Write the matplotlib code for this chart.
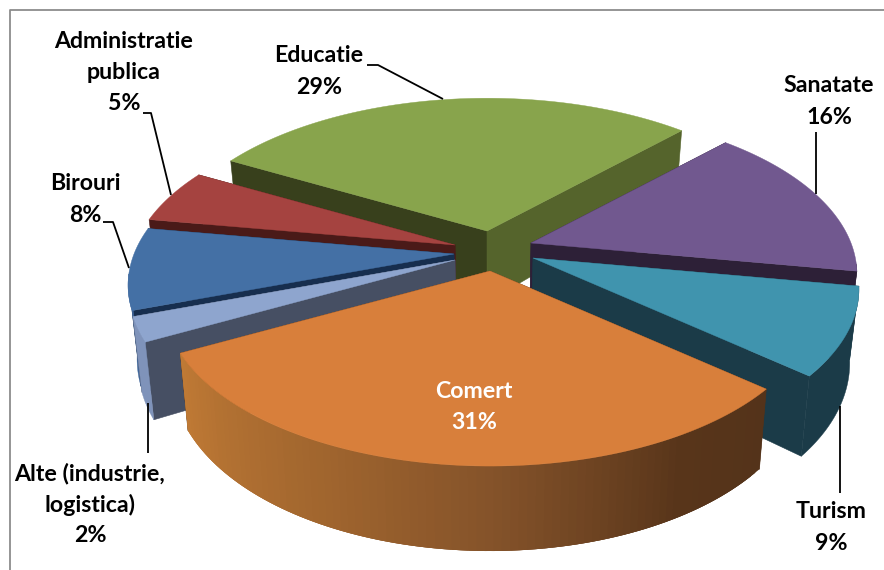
import numpy as np
import matplotlib
matplotlib.use("Agg")
import matplotlib.pyplot as plt
from matplotlib.patches import Polygon
from matplotlib.colors import to_rgb

# ---- data (clockwise from the start angle) ----
categories = ["Educatie", "Sanatate", "Turism", "Comert",
              "Alte (industrie,\nlogistica)", "Birouri", "Administratie\npublica"]
values = [29.1, 15.6, 8.6, 30.8, 2.4, 8.1, 5.4]

# ---- styles ----
top_colors = ["#88A44C", "#71588F", "#4094AE", "#D87F3B", "#8EA5CE", "#4470A5", "#A54340"]
start_wall = ["#38401C", "#2D2037", "#1B3B48", "#54331A", "#464F63", "#172E4E", "#4A1A18"]
end_wall   = ["#55642C", "#2D2037", "#1B3B48", "#54331A", "#464F63", "#172E4E", "#4A1A18"]
rim_wall   = ["#55642C", "#2D2037", "#1B3B48", "#54331A", "#7F93BA", "#3E659A", "#4A1A18"]
apex_px = [(487, 231), (531, 243), (533, 258), (490, 271), (455, 260), (454, 254), (455, 245)]
draw_order = [0, 6, 5, 1, 4, 2, 3]
label_pos = [(319, 56), (829, 86), (831, 512), (474, 391), (90, 473), (85, 184), (124, 41)]
label_col = ["black", "black", "black", "white", "black", "black", "black"]
leaders = [[(367, 65), (378, 65), (443, 99)], [(816, 132), (816, 194)], [(840, 406), (840, 493)],
           [], [(148, 403), (148, 453)], [(103, 222), (113, 222), (129, 268)],
           [(143, 113), (151, 113), (171, 195)]]

START = -61.0
RX, B, K = 320.0, 158.0, 0.19
D0, D1, XC, XS = 71.0, 14.0, 490.0, 0.975
LINE_H = 31.5
FONT = "Lato"
FS = 16.7


def top_pt(apex, deg):
    t = np.radians(deg)
    X, Y = np.sin(t), np.cos(t)
    den = 1 + K * Y
    return apex[0] + RX * X / den, apex[1] - B * Y / den


def bot_pt(apex, deg):
    x, y = top_pt(apex, deg)
    return XC + (x - XC) * XS, y + D0 - D1 * np.cos(np.radians(deg))


def apex_bot(apex):
    return XC + (apex[0] - XC) * XS, apex[1] + D0


wall_stops = {3: [(131, "#54331A"), (150, "#58351A"), (180, "#85532A"), (205, "#A0652E"), (242, "#C07A35")]}

fig = plt.figure(figsize=(8.84, 5.70), dpi=100, facecolor="white")
ax = fig.add_axes([0, 0, 1, 1])
ax.set_xlim(0, 884)
ax.set_ylim(570, 0)
ax.axis("off")

ax.plot([884, 9.5, 9.5], [9.5, 9.5, 570], color="#8C8C8C", lw=1.3, zorder=1)

edges = START + np.cumsum([0] + values) * 3.6
z = 2
for i in draw_order:
    a0, a1 = edges[i], edges[i + 1]
    ap = apex_px[i]
    arc = np.linspace(a0, a1, 90)
    # radial walls
    for ang, col in ((a0, start_wall[i]), (a1, end_wall[i])):
        q = [ap, top_pt(ap, ang), bot_pt(ap, ang), apex_bot(ap)]
        ax.add_patch(Polygon(q, closed=True, fc=col, ec=col, lw=0.4, zorder=z))
    z += 1
    # outer wall on the front-facing part of the rim
    front = arc[np.cos(np.radians(arc)) < -0.12]
    if len(front) > 1:
        if i in wall_stops:
            # each strip overlaps the next one so that no seams appear
            st = wall_stops[i]
            for n in range(len(front) - 1):
                s, e = front[n], front[min(n + 3, len(front) - 1)]
                mid = (front[n] + front[n + 1]) / 2
                rgb = [np.interp(mid, [p[0] for p in st], [to_rgb(p[1])[k] for p in st]) for k in range(3)]
                q = [top_pt(ap, s), top_pt(ap, e), bot_pt(ap, e), bot_pt(ap, s)]
                ax.add_patch(Polygon(q, closed=True, fc=rgb, ec="none", zorder=z + n * 1e-3))
        else:
            q = [top_pt(ap, d) for d in front] + [bot_pt(ap, d) for d in front[::-1]]
            ax.add_patch(Polygon(q, closed=True, fc=rim_wall[i], ec=rim_wall[i], lw=0.3, zorder=z))
    z += 1
    # top face
    pts = [ap] + [top_pt(ap, d) for d in arc]
    ax.add_patch(Polygon(pts, closed=True, fc=top_colors[i], ec=top_colors[i], lw=0.3, zorder=z))
    z += 1

for i, name in enumerate(categories):
    if leaders[i]:
        xs, ys = zip(*leaders[i])
        ax.plot(xs, ys, color="black", lw=1.3, zorder=50, solid_capstyle="butt")
    lines = name.split("\n") + [f"{values[i]:.0f}%"]
    x, y = label_pos[i]
    for n, ln in enumerate(lines):
        ax.text(x, y + n * LINE_H, ln, ha="center", va="center", family=FONT,
                fontweight="bold", fontsize=FS, color=label_col[i], zorder=60)

fig.savefig("out.png", dpi=100)
